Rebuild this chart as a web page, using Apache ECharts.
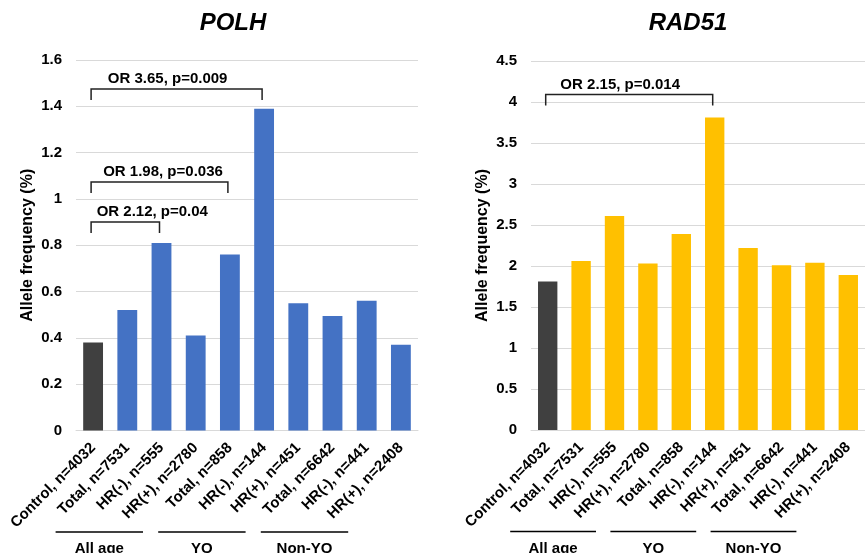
<!DOCTYPE html>
<html>
<head>
<meta charset="utf-8">
<script src="https://cdn.jsdelivr.net/npm/echarts@6/dist/echarts.min.js"></script>
<style>
html,body{margin:0;padding:0;background:#fff;}
#main{width:865px;height:553px;}
</style>
</head>
<body>
<div id="main"></div>
<script>
// ---- data ----
const categories = ['Control, n=4032','Total, n=7531','HR(-), n=555','HR(+), n=2780','Total, n=858','HR(-), n=144','HR(+), n=451','Total, n=6642','HR(-), n=441','HR(+), n=2408'];
const polhValues = [0.38, 0.52, 0.81, 0.41, 0.76, 1.39, 0.55, 0.495, 0.56, 0.37];
const rad51Values = [1.81, 2.06, 2.61, 2.03, 2.39, 3.81, 2.22, 2.01, 2.04, 1.89];
const titles = ['POLH', 'RAD51'];
const yAxisName = 'Allele frequency (%)';
const polhAxis = {min: 0, max: 1.6, interval: 0.2};
const rad51Axis = {min: 0, max: 4.5, interval: 0.5};
const groups = [['All age', 0, 2], ['YO', 3, 5], ['Non-YO', 6, 8]];
// [label, from category, to category, bracket value]
const polhBrackets = [['OR 3.65, p=0.009', 0, 5, 1.475], ['OR 1.98, p=0.036', 0, 4, 1.073], ['OR 2.12, p=0.04', 0, 2, 0.90]];
const rad51Brackets = [['OR 2.15, p=0.014', 0, 5, 4.09]];

// ---- style / layout ----
const FONT = '"Liberation Sans", Arial, Helvetica, sans-serif';
const polhTextDx = [-9, 3.5, 27];
const rad51TextDx = [-9];
const colors = [{control: '#404040', other: '#4472C4'}, {control: '#404040', other: '#FFC000'}];

const chart = echarts.init(document.getElementById('main'), null, {renderer: 'canvas'});

function xAxisCfg(i) {
  return {
    type: 'category', gridIndex: i, data: categories,
    axisTick: {show: false},
    axisLine: {lineStyle: {color: '#d9d9d9', width: 1}},
    axisLabel: {interval: 0, rotate: 45, margin: 15, fontWeight: 'bold', fontSize: 15, color: '#000', fontFamily: FONT}
  };
}
function yAxisCfg(i, ax) {
  return {
    type: 'value', gridIndex: i, min: ax.min, max: ax.max, interval: ax.interval,
    name: yAxisName, nameLocation: 'middle', nameGap: 40, nameRotate: 90,
    nameTextStyle: {fontWeight: 'bold', fontSize: 16, color: '#000', fontFamily: FONT},
    axisLine: {show: false}, axisTick: {show: false},
    splitLine: {lineStyle: {color: '#d9d9d9', width: 1}},
    axisLabel: {margin: 14, fontWeight: 'bold', fontSize: 15, color: '#000', fontFamily: FONT}
  };
}
function barSeries(i, values) {
  return {
    type: 'bar', xAxisIndex: i, yAxisIndex: i, data: values,
    barCategoryGap: '42%',
    itemStyle: {color: p => p.dataIndex === 0 ? colors[i].control : colors[i].other}
  };
}

chart.setOption({
  animation: false,
  backgroundColor: '#fff',
  title: [
    {text: titles[0], left: 233, top: 11, textAlign: 'center', padding: 0,
     textStyle: {fontSize: 24, fontWeight: 'bold', fontStyle: 'italic', color: '#000', fontFamily: FONT}},
    {text: titles[1], left: 688, top: 11, textAlign: 'center', padding: 0,
     textStyle: {fontSize: 24, fontWeight: 'bold', fontStyle: 'italic', color: '#000', fontFamily: FONT}}
  ],
  grid: [
    {left: 76, top: 60, width: 342, height: 370.5},
    {left: 531, top: 61, width: 342, height: 369}
  ],
  xAxis: [xAxisCfg(0), xAxisCfg(1)],
  yAxis: [yAxisCfg(0, polhAxis), yAxisCfg(1, rad51Axis)],
  series: [barSeries(0, polhValues), barSeries(1, rad51Values)]
});

// ---- annotations computed through the axes ----
const graphics = [];
function addBrackets(gi, brackets, dxs) {
  brackets.forEach((b, k) => {
    const p1 = chart.convertToPixel({gridIndex: gi}, [b[1], b[3]]);
    const p2 = chart.convertToPixel({gridIndex: gi}, [b[2], b[3]]);
    const x1 = p1[0] - 2, x2 = p2[0] - 2, y = p1[1];
    graphics.push({type: 'polyline', silent: true,
      shape: {points: [[x1, y + 11], [x1, y], [x2, y], [x2, y + 11]]},
      style: {stroke: '#222', lineWidth: 1.5, fill: null}});
    graphics.push({type: 'text', silent: true,
      style: {text: b[0], x: (x1 + x2) / 2 + dxs[k], y: y - 10, align: 'center', verticalAlign: 'middle',
        font: 'bold 15px ' + FONT, fill: '#000'}});
  });
}
function addGroups(gi) {
  groups.forEach(g => {
    const a = chart.convertToPixel({gridIndex: gi}, [g[1], 0]);
    const b = chart.convertToPixel({gridIndex: gi}, [g[2], 0]);
    const x1 = a[0] - 37.5, x2 = b[0] - 18.5, y = a[1] + 101.5;
    graphics.push({type: 'line', silent: true, shape: {x1: x1, y1: y, x2: x2, y2: y},
      style: {stroke: '#000', lineWidth: 1.5}});
    graphics.push({type: 'text', silent: true,
      style: {text: g[0], x: (x1 + x2) / 2, y: y + 17, align: 'center', verticalAlign: 'middle',
        font: 'bold 15px ' + FONT, fill: '#000'}});
  });
}
addBrackets(0, polhBrackets, polhTextDx);
addBrackets(1, rad51Brackets, rad51TextDx);
addGroups(0);
addGroups(1);
chart.setOption({graphic: {elements: graphics}});
</script>
</body>
</html>
